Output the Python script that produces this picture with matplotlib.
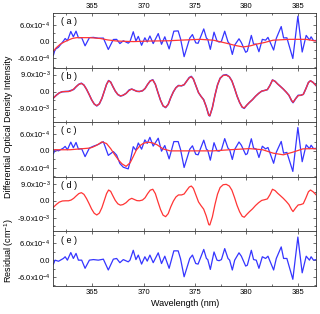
import numpy as np
import matplotlib.pyplot as plt
from matplotlib.ticker import MultipleLocator

plt.rcParams['font.family'] = ['Liberation Sans', 'DejaVu Sans']
plt.rcParams['mathtext.default'] = 'regular'
plt.rcParams['lines.solid_joinstyle'] = 'round'

# wavelength grid of the measured / residual spectra (nm)
wl = [361.23, 361.39, 361.72, 362.20, 362.37, 362.59, 362.92, 363.17, 363.43, 363.66,
      363.98, 364.31, 364.73, 365.12, 365.60, 366.09, 366.57, 367.06, 367.38, 367.70,
      368.03, 368.51, 368.68, 369.00, 369.26, 369.49, 369.81, 370.13, 370.36, 370.62,
      370.94, 371.43, 371.75, 372.07, 372.49, 372.95, 373.37, 373.60, 373.95, 374.50,
      374.76, 375.08, 375.31, 375.86, 376.12, 376.25, 376.50, 376.86, 377.15, 377.35,
      377.58, 377.90, 378.22, 378.38, 378.64, 378.87, 379.29, 379.52, 379.94, 380.10,
      380.49, 380.71, 380.97, 381.23, 381.56, 381.88, 382.11, 382.66, 382.92, 383.40,
      383.63, 383.95, 384.53, 385.02, 385.44, 385.83, 386.15, 386.31, 386.54, 386.80]

# (a) measured, units 1e-4
blue_a = [-4.8, -2.8, -2.0, 0.2, 1.1, 0.3, 3.6, 1.7, 3.7, 1.4,
          1.4, -1.5, 1.4, 1.5, 1.2, 1.25, -2.8, 0.75, 0.8, -0.7,
          0.3, -0.55, 0.0, 3.5, 0.2, 1.85, -1.3, 1.35, -0.15, 2.0,
          -0.7, 2.85, -0.95, 1.7, -2.6, 3.7, 3.8, 1.0, -5.35, 1.25,
          2.5, -0.45, -0.6, 4.5, 1.25, 0.8, -2.75, 3.35, 0.2, -0.15,
          0.1, 3.7, -0.1, -0.8, -4.55, -1.25, 1.0, -0.35, -3.8, -3.4,
          2.2, -0.9, -0.9, -3.6, 0.8, 0.5, 1.5, -3.0, 1.15, 5.35,
          1.3, 1.35, -6.0, 9.0, -3.7, 2.2, 0.6, 1.7, 0.35, 0.4]

# (c) measured, units 1e-4
blue_c = [-1.0, 0.4, 0.0, 1.0, 1.6, 0.4, 3.1, 1.1, 3.0, 0.65,
          0.75, -2.05, 1.0, 1.65, 2.3, 3.25, -1.6, -0.25, -1.5, -4.5,
          -5.8, -6.4, -4.0, 1.5, 0.2, 2.8, 0.6, 3.9, 2.65, 4.8,
          1.7, 4.5, -0.1, 1.9, -2.85, 3.3, 3.3, 0.5, -5.9, 0.6,
          1.8, -1.2, -1.4, 3.8, 0.6, 0.2, -3.3, 2.9, 0.05, -0.1,
          0.35, 4.35, 0.95, 0.4, -3.05, 0.5, 3.15, 2.0, -1.35, -1.0,
          4.3, 0.95, 0.65, -2.35, 1.65, 0.7, 1.2, -4.4, -0.5, 3.35,
          -0.8, -0.55, -7.3, 8.3, -3.85, 2.15, 0.8, 2.0, 0.8, 0.9]

# (e) residual, units 1e-4
residual = [-1.4, 0.0, -0.4, 0.6, 1.2, 0.0, 2.7, 0.6, 2.4, 0.0,
            0.0, -2.9, 0.0, 0.2, 0.0, 0.35, -3.5, 0.35, 0.6, -0.9,
            0.2, -0.6, 0.0, 3.5, 0.2, 1.8, -1.4, 1.2, -0.35, 1.8,
            -0.9, 2.6, -1.2, 1.4, -2.9, 3.3, 3.3, 0.5, -5.9, 0.6,
            1.8, -1.2, -1.4, 3.8, 0.6, 0.2, -3.3, 2.9, 0.0, -0.2,
            0.2, 4.1, 0.6, 0.0, -3.5, 0.0, 2.6, 1.4, -2.1, -1.8,
            3.5, 0.2, 0.0, -2.9, 1.2, 0.6, 1.4, -3.5, 0.6, 4.7,
            0.6, 0.6, -6.8, 8.2, -4.5, 1.4, 0.0, 1.2, 0.0, 0.2]

# (a) fit
wl_fit_a = [361.2, 361.5, 361.9, 362.3, 362.85, 363.1, 363.5, 364.8, 365.8, 366.5,
            367.4, 369.0, 370.6, 372.5, 373.5, 375.5, 376.8, 378.1, 378.9, 379.7,
            380.4, 381.0, 381.8, 382.6, 384.2, 385.8, 386.8]
fit_a = [-3.5, -2.2, -0.9, -0.1, 0.8, 1.15, 1.4, 1.4, 1.1, 0.6,
         0.2, 0.0, 0.2, 0.3, 0.5, 0.8, 0.5, -0.6, -1.35, -1.9,
         -1.5, -0.9, -0.3, 0.5, 0.8, 0.8, 0.2]

# (c) fit
wl_fit_c = [361.2, 362.85, 363.8, 364.8, 365.1, 365.45, 365.95, 366.4, 366.8, 367.2,
            367.6, 367.9, 368.3, 368.7, 369.0, 369.3, 369.7, 370.0, 370.45, 370.9,
            371.3, 371.9, 372.6, 376.8, 378.4, 380.3, 381.6, 382.6, 383.6, 384.5,
            385.5, 386.5, 386.8]
fit_c = [0.4, 0.4, 0.7, 1.0, 1.4, 2.0, 3.2, 2.6, 0.8, -1.4,
         -3.4, -4.6, -5.5, -4.2, -2.0, 0.3, 2.0, 2.7, 3.1, 2.8,
         2.2, 0.7, 0.0, 0.0, 0.4, 0.8, 0.4, -0.8, -1.4, -0.5,
         0.7, 0.8, 0.7]

# (b)/(d) structure, units 1e-3
wl_b = [361.2, 361.5, 361.8, 362.1, 362.4, 362.7, 362.95, 363.2, 363.45, 363.7,
        363.95, 364.2, 364.45, 364.7, 364.95, 365.2, 365.45, 365.7, 365.95, 366.2,
        366.4, 366.6, 366.8, 367.0, 367.25, 367.5, 367.75, 368.0, 368.3, 368.6,
        368.85, 369.1, 369.35, 369.6, 369.9, 370.15, 370.4, 370.65, 370.9, 371.15,
        371.4, 371.65, 371.9, 372.15, 372.4, 372.65, 372.9, 373.15, 373.4, 373.7,
        373.95, 374.2, 374.45, 374.65, 374.85, 375.1, 375.35, 375.6, 375.85, 376.1,
        376.35, 376.45, 376.7, 376.95, 377.2, 377.45, 377.75, 378.05, 378.35, 378.6,
        378.85, 379.1, 379.35, 379.6, 379.8, 380.05, 380.3, 380.6, 380.9, 381.2,
        381.5, 381.8, 382.05, 382.3, 382.55, 382.8, 383.05, 383.3, 383.6, 383.9,
        384.15, 384.4, 384.55, 384.8, 385.05, 385.3, 385.55, 385.8, 386.05, 386.25,
        386.5, 386.8]
red_b = [-3.6, -2.0, -0.7, -0.1, 0.0, 0.0, 0.4, 1.3, 2.6, 3.8,
         4.3, 3.4, 1.2, -1.5, -4.4, -6.6, -7.5, -6.5, -3.6, 0.5,
         3.8, 5.7, 5.0, 2.8, 0.2, -1.6, -2.3, -2.0, -1.0, 0.6,
         1.3, 0.7, 0.1, 0.0, 0.4, 1.6, 3.8, 5.6, 6.1, 3.8,
         -0.5, -4.6, -7.6, -8.4, -6.8, -3.2, -0.2, 2.0, 3.1, 3.1,
         3.6, 5.5, 7.3, 7.8, 6.6, 3.0, -0.6, -2.6, -4.4, -8.0,
         -12.6, -12.8, -8.5, -2.0, 3.5, 7.0, 8.5, 8.7, 7.8, 5.6,
         1.8, -2.4, -5.8, -8.2, -8.7, -7.2, -5.8, -4.3, -2.5, -1.0,
         0.2, 0.6, 1.0, 3.2, 6.1, 5.4, 4.0, 2.8, 1.3, -0.4,
         -2.0, -4.6, -5.7, -3.8, -2.2, -2.0, -1.5, 1.5, 4.8, 5.7,
         4.8, 3.1]
blue_b = [-3.6, -2.0, -0.7, -0.1, 0.0, 0.1, 0.6, 1.1, 2.6, 3.8,
          4.4, 3.4, 1.2, -1.5, -4.4, -6.6, -7.6, -6.5, -3.6, 0.5,
          3.8, 5.8, 5.0, 2.8, 0.2, -1.6, -2.4, -2.0, -1.0, 0.8,
          1.3, 0.7, 0.1, 0.0, 0.4, 1.6, 3.8, 5.6, 6.2, 3.8,
          -0.5, -4.6, -7.6, -8.5, -6.8, -3.2, -0.2, 2.0, 3.2, 3.0,
          3.6, 5.5, 7.4, 8.0, 6.6, 3.0, -0.6, -2.6, -4.3, -8.0,
          -12.6, -12.9, -8.5, -2.0, 3.5, 7.0, 8.6, 8.9, 7.8, 5.6,
          1.8, -2.4, -5.8, -8.3, -8.9, -7.2, -5.8, -4.3, -2.5, -1.0,
          0.2, 0.6, 1.0, 3.2, 6.1, 5.4, 4.0, 2.8, 1.3, -0.4,
          -2.0, -4.8, -5.9, -3.8, -2.0, -2.0, -1.5, 1.5, 4.8, 5.7,
          4.8, 3.1]
red_d = red_b

labels = ['( a )', '( b )', '( c )', '( d )', '( e )']
blue = '#3535ff'
red = '#ff3535'

fig, axs = plt.subplots(5, 1, sharex=True, figsize=(3.2, 3.14), dpi=100)
plt.subplots_adjust(left=0.166, right=0.988, top=0.959, bottom=0.089, hspace=0)

axs[0].plot(wl, blue_a, color=blue, lw=0.9)
axs[0].plot(wl_fit_a, fit_a, color=red, lw=0.9)
axs[1].plot(wl_b, blue_b, color=blue, lw=1.1)
axs[1].plot(wl_b, red_b, color=red, lw=0.9)
axs[2].plot(wl, blue_c, color=blue, lw=0.9)
axs[2].plot(wl_fit_c, fit_c, color=red, lw=0.9)
axs[3].plot(wl_b, red_d, color=red, lw=0.9)
axs[4].plot(wl, residual, color=blue, lw=0.9)

for i, ax in enumerate(axs):
    ax.set_xlim(361.2, 386.8)
    ax.xaxis.set_major_locator(MultipleLocator(5))
    ax.xaxis.set_minor_locator(MultipleLocator(2.5))
    if i in (1, 3):
        ax.set_ylim(-16.2, 12.7)
        ax.set_yticks([-9, 0, 9])
        ax.set_yticklabels(['-9.0x10$^{-3}$', '0.0', '9.0x10$^{-3}$'])
        ax.yaxis.set_minor_locator(MultipleLocator(4.5))
    else:
        ax.set_ylim(-9.2, 10.2)
        ax.set_yticks([-6, 0, 6])
        ax.set_yticklabels(['-6.0x10$^{-4}$', '0.0', '6.0x10$^{-4}$'])
        ax.yaxis.set_minor_locator(MultipleLocator(3))
    ax.tick_params(which='both', direction='in', top=True, right=True,
                   labelsize=5.5, width=0.5, color='#333333', pad=2)
    ax.tick_params(which='major', length=2.5)
    ax.tick_params(which='minor', length=1.5)
    ax.tick_params(labelbottom=(i == 4), labeltop=(i == 0))
    for sp in ax.spines.values():
        sp.set_linewidth(0.6)
        sp.set_color('#333333')
    ax.text(0.03, 0.84, labels[i], transform=ax.transAxes, fontsize=6.5, va='center')

axs[4].set_xlabel('Wavelength (nm)', fontsize=6.5, labelpad=2)
fig.text(0.028, 1 - 127 / 314, 'Differential Optical Density Intensity',
         rotation=90, va='center', ha='center', fontsize=6.5)
fig.text(0.028, 1 - 251 / 314, 'Residual (cm$^{-1}$)',
         rotation=90, va='center', ha='center', fontsize=6.5)

fig.savefig('out.png', dpi=100)
